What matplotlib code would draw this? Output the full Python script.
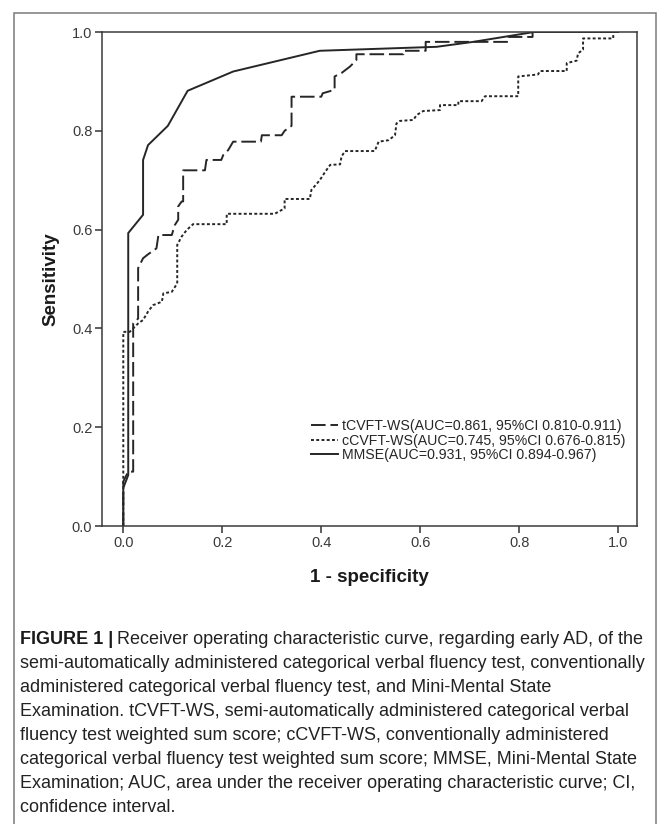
import matplotlib
matplotlib.use("Agg")
import matplotlib.pyplot as plt
from matplotlib.patches import Rectangle

plt.rcParams['font.family'] = ['Liberation Sans', 'DejaVu Sans']

# ROC curves (1 - specificity, sensitivity)
tcvft_fpr = [0.0, 0.0, 0.01, 0.02, 0.02, 0.03, 0.03, 0.04, 0.05, 0.067, 0.071, 0.098, 0.104,
             0.111, 0.111, 0.118, 0.121, 0.121, 0.165, 0.168, 0.198, 0.202, 0.212, 0.222, 0.278,
             0.28, 0.32, 0.326, 0.34, 0.34, 0.40, 0.403, 0.427, 0.427, 0.441, 0.458, 0.471,
             0.471, 0.566, 0.566, 0.611, 0.611, 0.778, 0.778, 0.827, 0.827, 1.0]
tcvft_tpr = [0.0, 0.09, 0.11, 0.11, 0.41, 0.42, 0.522, 0.542, 0.55, 0.562, 0.589, 0.589, 0.609,
             0.62, 0.647, 0.657, 0.657, 0.72, 0.72, 0.741, 0.741, 0.751, 0.761, 0.778, 0.778,
             0.791, 0.791, 0.80, 0.81, 0.869, 0.869, 0.876, 0.883, 0.91, 0.917, 0.93, 0.943,
             0.955, 0.955, 0.962, 0.962, 0.98, 0.98, 0.99, 0.99, 1.0, 1.0]

ccvft_fpr = [0.0, 0.0, 0.013, 0.02, 0.03, 0.04, 0.05, 0.06, 0.078, 0.081, 0.098, 0.109, 0.109,
             0.118, 0.128, 0.141, 0.209, 0.209, 0.306, 0.326, 0.326, 0.377, 0.38, 0.397, 0.408,
             0.418, 0.438, 0.441, 0.448, 0.508, 0.516, 0.536, 0.549, 0.552, 0.559, 0.586, 0.593,
             0.606, 0.64, 0.64, 0.677, 0.677, 0.724, 0.731, 0.798, 0.798, 0.838, 0.842, 0.896,
             0.896, 0.916, 0.919, 0.929, 0.929, 0.99, 0.99, 1.0]
ccvft_tpr = [0.0, 0.393, 0.393, 0.40, 0.41, 0.417, 0.434, 0.447, 0.454, 0.471, 0.474, 0.491, 0.569,
             0.586, 0.599, 0.611, 0.611, 0.632, 0.632, 0.643, 0.662, 0.662, 0.68, 0.70, 0.717,
             0.731, 0.732, 0.748, 0.759, 0.759, 0.778, 0.781, 0.791, 0.815, 0.82, 0.822, 0.832,
             0.84, 0.842, 0.852, 0.852, 0.86, 0.86, 0.87, 0.87, 0.91, 0.914, 0.921, 0.921,
             0.937, 0.942, 0.957, 0.964, 0.987, 0.987, 1.0, 1.0]

mmse_fpr = [0.0, 0.0, 0.01, 0.01, 0.04, 0.04, 0.05, 0.09, 0.13, 0.222, 0.397, 0.633, 0.707, 0.83, 1.0]
mmse_tpr = [0.0, 0.077, 0.103, 0.593, 0.63, 0.741, 0.771, 0.81, 0.881, 0.92, 0.962, 0.97, 0.98, 1.0, 1.0]

labels = ["tCVFT-WS(AUC=0.861, 95%CI 0.810-0.911)",
          "cCVFT-WS(AUC=0.745, 95%CI 0.676-0.815)",
          "MMSE(AUC=0.931, 95%CI 0.894-0.967)"]

caption_lines = [
    "Receiver operating characteristic curve, regarding early AD, of the",
    "semi-automatically administered categorical verbal fluency test, conventionally",
    "administered categorical verbal fluency test, and Mini-Mental State",
    "Examination. tCVFT-WS, semi-automatically administered categorical verbal",
    "fluency test weighted sum score; cCVFT-WS, conventionally administered",
    "categorical verbal fluency test weighted sum score; MMSE, Mini-Mental State",
    "Examination; AUC, area under the receiver operating characteristic curve; CI,",
    "confidence interval.",
]

W, H = 669, 824
fig = plt.figure(figsize=(W / 100, H / 100), dpi=100)

# outer frame of the figure panel
fig.add_artist(Rectangle((14 / W, -0.05), (656 - 14) / W, 1.05 - 13 / H,
                         transform=fig.transFigure, fill=False,
                         edgecolor='#7a7a7a', linewidth=1.1))

ax = fig.add_axes([102 / W, 1 - 526 / H, (637 - 102) / W, (526 - 32) / H])

line_col = '#262626'
ax.plot(tcvft_fpr, tcvft_tpr, color=line_col, lw=1.4, ls=(0, (7.5, 2.5)), label=labels[0])
ax.plot(ccvft_fpr, ccvft_tpr, color=line_col, lw=1.4, ls=(0, (1.5, 1.2)), label=labels[1])
ax.plot(mmse_fpr, mmse_tpr, color=line_col, lw=1.4, ls='-', label=labels[2])

ax.set_xlim(-0.043, 1.038)
ax.set_ylim(0, 1)
ax.set_xticks([0.0, 0.2, 0.4, 0.6, 0.8, 1.0])
ax.set_yticks([0.0, 0.2, 0.4, 0.6, 0.8, 1.0])
ax.set_xticklabels(["0.0", "0.2", "0.4", "0.6", "0.8", "1.0"])
ax.set_yticklabels(["0.0", "0.2", "0.4", "0.6", "0.8", "1.0"])
ax.tick_params(direction='out', length=5, width=1.1, color='#333333',
               labelsize=10.5, labelcolor='#3a3a3a', pad=2)
for s in ax.spines.values():
    s.set_linewidth(1.1)
    s.set_color('#3a3a3a')

ax.set_xlabel("1 - specificity", fontsize=13.5, fontweight='bold', color='#1a1a1a', labelpad=14)
ax.set_ylabel("Sensitivity", fontsize=13.5, fontweight='bold', color='#1a1a1a', labelpad=9)

ax.legend(loc='upper left', bbox_to_anchor=(0.39, 0.216), frameon=False, fontsize=10.2,
          handlelength=1.9, handletextpad=0.3, labelspacing=0.02, borderpad=0,
          borderaxespad=0, labelcolor='#262626')

# caption
fs = 13.0
y0 = 640
step = 24
fig.canvas.draw()
r = fig.canvas.get_renderer()
head = fig.text(20 / W, 1 - y0 / H, "FIGURE 1 |", fontsize=fs, fontweight='bold',
                va='center', ha='left', color='#1a1a1a')
bb = head.get_window_extent(renderer=r)
fig.text((bb.x1 + 4) / W, 1 - y0 / H, caption_lines[0], fontsize=fs,
         va='center', ha='left', color='#222222')
for i, txt in enumerate(caption_lines[1:], start=1):
    fig.text(20 / W, 1 - (y0 + i * step) / H, txt, fontsize=fs,
             va='center', ha='left', color='#222222')

fig.savefig("out.png", dpi=100)
